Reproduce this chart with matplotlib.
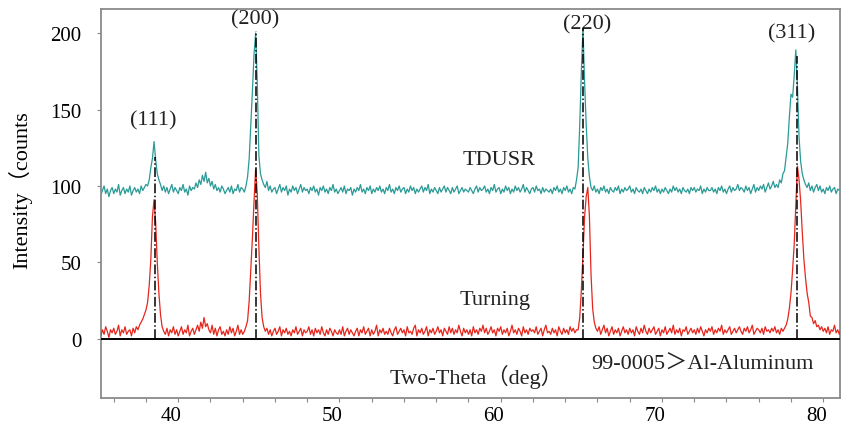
import numpy as np
import matplotlib
matplotlib.use("Agg")
import matplotlib.pyplot as plt
from matplotlib.ticker import MultipleLocator, FixedLocator
from matplotlib.transforms import ScaledTranslation

# ---------------- data ----------------
two_theta_start = 35.0
two_theta_step = 0.1

tdusr = [
    96, 99, 94, 97, 100, 95, 98, 93, 97, 99,      # 35
    95, 98, 96, 101, 94, 97, 99, 95, 98, 96,      # 36
    100, 94, 97, 99, 96, 98, 95, 100, 97, 99,     # 37
    101, 100, 104, 112, 118, 129, 117, 108, 104, 101,  # 38
    97, 100, 96, 99, 95, 98, 101, 96, 99, 97,     # 39
    95, 99, 97, 101, 96, 98, 94, 100, 97, 99,     # 40
    98, 102, 99, 104, 101, 107, 103, 109, 102, 105,  # 41
    100, 103, 98, 101, 97, 99, 96, 100, 98, 95,   # 42
    97, 99, 96, 100, 95, 98, 97, 101, 96, 99,     # 43
    98, 96, 100, 106, 118, 140, 162, 186, 200, 168,  # 44
    120, 108, 104, 101, 99, 103, 97, 100, 96, 98,  # 45
    99, 95, 98, 101, 96, 99, 97, 100, 94, 98,     # 46
    96, 100, 97, 99, 95, 98, 101, 96, 99, 97,     # 47
    98, 95, 99, 97, 100, 96, 98, 94, 99, 97,      # 48
    100, 96, 98, 95, 99, 97, 101, 96, 98, 95,     # 49
    97, 99, 96, 100, 95, 98, 97, 99, 94, 98,      # 50
    96, 99, 97, 101, 96, 98, 95, 99, 97, 100,     # 51
    95, 98, 96, 99, 97, 100, 96, 98, 95, 99,      # 52
    97, 101, 96, 98, 95, 99, 97, 100, 96, 98,     # 53
    99, 95, 98, 96, 100, 97, 99, 95, 98, 96,      # 54
    98, 100, 96, 99, 97, 101, 95, 98, 96, 99,     # 55
    97, 95, 99, 96, 98, 100, 96, 99, 97, 95,      # 56
    99, 96, 98, 100, 95, 97, 99, 96, 98, 97,      # 57
    96, 99, 97, 95, 98, 100, 96, 99, 97, 98,      # 58
    100, 96, 98, 95, 99, 97, 101, 96, 98, 99,     # 59
    95, 98, 96, 100, 97, 99, 95, 98, 96, 100,     # 60
    97, 99, 96, 98, 101, 96, 99, 97, 95, 98,      # 61
    99, 96, 100, 97, 98, 95, 99, 96, 98, 97,      # 62
    96, 98, 95, 99, 97, 100, 96, 98, 95, 99,      # 63
    97, 100, 96, 98, 95, 99, 98, 104, 112, 140,   # 64
    175, 203, 168, 140, 118, 106, 99, 97, 100, 96,  # 65
    98, 95, 99, 97, 100, 96, 98, 95, 99, 97,      # 66
    96, 99, 97, 100, 95, 98, 96, 99, 97, 98,      # 67
    100, 96, 98, 95, 99, 97, 96, 98, 95, 99,      # 68
    97, 95, 98, 96, 99, 97, 100, 96, 98, 95,      # 69
    98, 96, 99, 97, 95, 98, 96, 100, 97, 99,      # 70
    96, 98, 95, 99, 97, 96, 98, 95, 99, 97,       # 71
    99, 96, 98, 97, 100, 95, 98, 96, 99, 97,      # 72
    97, 99, 96, 98, 95, 99, 97, 100, 96, 98,      # 73
    95, 98, 100, 96, 99, 97, 98, 101, 97, 99,     # 74
    98, 96, 100, 97, 99, 95, 98, 101, 96, 99,     # 75
    97, 100, 98, 101, 96, 99, 102, 98, 100, 103,  # 76
    99, 101, 99, 104, 102, 108, 110, 119, 128, 145,  # 77
    160, 158, 172, 189, 165, 132, 116, 108, 104, 101,  # 78
    99, 102, 97, 100, 96, 99, 101, 97, 100, 96,   # 79
    98, 95, 99, 97, 100, 96, 98, 99, 95, 98,      # 80
    97, 99, 96, 98, 100, 97, 95, 98, 96, 99,      # 81
]

turning = [
    4, 7, 2, 6, 3, 8, 5, 1, 6, 4,        # 35
    7, 3, 5, 9, 2, 6, 4, 8, 3, 5,        # 36
    6, 2, 7, 4, 8, 6, 9, 11, 13, 16,     # 37
    19, 24, 35, 52, 80, 91, 76, 50, 30, 16,  # 38
    8, 5, 3, 7, 2, 6, 4, 8, 3, 6,        # 39
    2, 5, 8, 3, 6, 4, 9, 2, 5, 7,        # 40
    3, 6, 9, 5, 11, 7, 14, 8, 10, 6,     # 41
    4, 9, 3, 7, 2, 6, 8, 3, 5, 2,        # 42
    6, 3, 8, 4, 7, 2, 5, 9, 3, 6,        # 43
    3, 5, 8, 12, 25, 45, 66, 90, 111, 95,  # 44
    60, 30, 14, 8, 5, 7, 3, 6, 2, 5,     # 45
    7, 3, 5, 8, 2, 6, 4, 7, 3, 5,        # 46
    2, 6, 4, 8, 3, 5, 7, 2, 6, 4,        # 47
    5, 8, 3, 6, 2, 7, 4, 6, 3, 8,        # 48
    4, 2, 6, 3, 7, 5, 2, 6, 4, 3,        # 49
    6, 3, 8, 2, 5, 7, 3, 6, 4, 2,        # 50
    5, 7, 2, 6, 4, 8, 3, 5, 7, 2,        # 51
    6, 3, 5, 9, 2, 6, 4, 7, 3, 5,        # 52
    3, 7, 4, 2, 6, 8, 3, 5, 7, 4,        # 53
    6, 2, 8, 4, 5, 3, 7, 9, 2, 6,        # 54
    4, 7, 3, 5, 8, 2, 6, 4, 7, 3,        # 55
    5, 8, 4, 6, 2, 7, 5, 3, 8, 4,        # 56
    7, 3, 6, 4, 9, 5, 2, 7, 4, 6,        # 57
    3, 6, 2, 8, 4, 6, 3, 7, 5, 9,        # 58
    4, 7, 3, 5, 8, 4, 6, 2, 7, 5,        # 59
    8, 3, 6, 4, 7, 2, 5, 9, 4, 6,        # 60
    3, 7, 5, 2, 8, 4, 6, 3, 7, 5,        # 61
    6, 4, 8, 3, 5, 7, 2, 6, 9, 4,        # 62
    5, 3, 7, 4, 6, 2, 8, 5, 3, 7,        # 63
    4, 6, 3, 8, 5, 7, 4, 6, 6, 14,       # 64
    32, 55, 80, 93, 99, 80, 42, 20, 11, 7,  # 65
    5, 8, 3, 6, 9, 4, 7, 2, 5, 8,        # 66
    3, 6, 4, 7, 2, 5, 8, 4, 6, 3,        # 67
    7, 4, 6, 2, 8, 5, 3, 7, 4, 9,        # 68
    5, 3, 7, 4, 6, 8, 3, 5, 7, 2,        # 69
    6, 4, 8, 3, 5, 7, 4, 9, 3, 6,        # 70
    4, 7, 2, 6, 5, 8, 3, 5, 7, 4,        # 71
    6, 3, 7, 4, 8, 5, 2, 6, 4, 7,        # 72
    5, 8, 3, 6, 4, 7, 5, 9, 3, 6,        # 73
    4, 6, 8, 3, 5, 7, 4, 6, 8, 5,        # 74
    3, 7, 5, 8, 4, 6, 9, 3, 5, 7,        # 75
    6, 4, 7, 3, 8, 5, 6, 4, 7, 5,        # 76
    8, 4, 6, 3, 7, 5, 7, 9, 13, 20,      # 77
    30, 45, 62, 88, 113, 104, 90, 70, 52, 40,  # 78
    30, 24, 15, 14, 10, 12, 8, 9, 6, 8,  # 79
    5, 7, 4, 8, 3, 6, 5, 9, 4, 6,        # 80
    3, 7, 5, 8, 4, 6, 2, 5, 7, 4,        # 81
]

ref_positions = [38.55, 44.80, 65.12, 78.35]
ref_heights = [119, 201, 203, 185]
hkl_labels = ["(111)", "(200)", "(220)", "(311)"]
hkl_label_x = [38.43, 44.77, 65.38, 78.05]
hkl_label_y = [143, 209, 206, 200]

x_ticks = [40, 50, 60, 70, 80]
y_ticks = [0, 50, 100, 150, 200]

# ---------------- plot ----------------
serif = ["Liberation Serif", "Noto Sans CJK SC", "DejaVu Sans"]
plt.rcParams["font.family"] = serif

fig = plt.figure(figsize=(8.43, 4.27), dpi=100)
ax = fig.add_axes([101 / 843, 1 - 399 / 427, (840 - 101) / 843, (399 - 10) / 427])

n = len(tdusr)
x = two_theta_start + two_theta_step * np.arange(n)

ax.plot(x, tdusr, color="#2a9a96", lw=0.9, zorder=2)
ax.plot(x, turning, color="#e5261d", lw=0.9, zorder=3)
ax.axhline(0, color="black", lw=1.4, zorder=4)
ax.vlines(ref_positions, 0, ref_heights, colors="black", linestyles="dashdot",
          lw=1.1, zorder=5)

for lab, lx, ly in zip(hkl_labels, hkl_label_x, hkl_label_y):
    ax.text(lx, ly, lab, ha="center", va="center", fontsize=16, color="#222222",
            family=serif)

ax.text(59.88, 117, "TDUSR", ha="center", va="center", fontsize=16,
        color="#222222", family=serif)
ax.text(59.63, 26, "Turning", ha="center", va="center", fontsize=16,
        color="#222222", family=serif)
ax.text(58.5, -24, "Two-Theta（deg）", ha="center", va="center", fontsize=16,
        color="#222222", family=serif)
ax.text(72.5, -16.3, "99-0005＞Al-Aluminum", ha="center", va="center", fontsize=16,
        color="#222222", family=serif)

ax.set_xlim(35.21, 81.04)
ax.set_ylim(-38.6, 215.7)

ax.xaxis.set_major_locator(FixedLocator(x_ticks))
ax.xaxis.set_minor_locator(MultipleLocator(2))
ax.set_yticks(y_ticks)

ax.tick_params(axis="x", which="both", direction="out", length=3, width=0.8,
               color="#888888", labelsize=15, pad=3)
ax.tick_params(axis="y", which="both", direction="out", length=3, width=0.8,
               color="#888888", labelsize=15, pad=11)

offset = ScaledTranslation(-7 / 100, 0, fig.dpi_scale_trans)
for lbl in ax.get_xticklabels():
    lbl.set_transform(lbl.get_transform() + offset)

ax.set_ylabel("Intensity（counts", fontsize=16)
ax.yaxis.set_label_coords(-0.093, 0.537)

for side in ["left", "right", "top", "bottom"]:
    ax.spines[side].set_color("#8a8a8a")
    ax.spines[side].set_linewidth(1.3)

fig.savefig("out.png", dpi=100)
